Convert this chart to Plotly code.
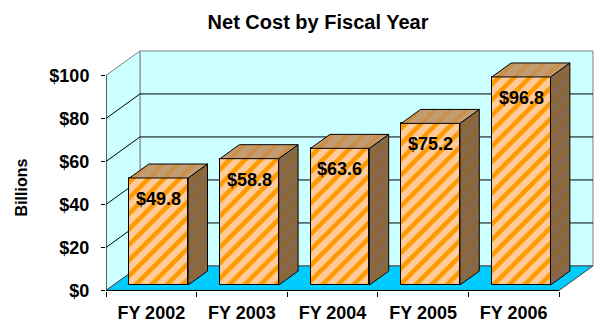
import plotly.graph_objects as go

# ---- data ----
categories = ["FY 2002", "FY 2003", "FY 2004", "FY 2005", "FY 2006"]
net_cost = [49.8, 58.8, 63.6, 75.2, 96.8]
value_labels = ["$49.8", "$58.8", "$63.6", "$75.2", "$96.8"]
y_tick_values = [0, 20, 40, 60, 80, 100]
y_tick_labels = ["$0", "$20", "$40", "$60", "$80", "$100"]

# ---- 3D projection settings (in axis units) ----
DX = 0.375      # depth offset along x (category units)
DY = 11.4       # depth offset along y (value units)
D_FRONT = 0.22  # bar front face depth fraction
D_BACK = 0.79   # bar back face depth fraction
BAR_W = 0.648
Y_MAX = 100

FONT = "Liberation Sans, Arial, sans-serif"
WALL = "#CCFFFF"
FLOOR = "#00CCFF"
BORDER = "#808080"

pos = list(range(len(categories)))
x_lo = -0.5
x_hi = len(categories) - 0.5

fig = go.Figure()
shapes = []

def poly(xs, ys):
    return "M " + " L ".join(f"{a},{b}" for a, b in zip(xs, ys)) + " Z"

# back wall
shapes.append(dict(type="path", xref="x", yref="y", layer="below",
                   path=poly([x_lo + DX, x_hi + DX, x_hi + DX, x_lo + DX],
                             [DY, DY, Y_MAX + DY, Y_MAX + DY]),
                   fillcolor=WALL, line=dict(color=BORDER, width=1)))
# left wall
shapes.append(dict(type="path", xref="x", yref="y", layer="below",
                   path=poly([x_lo, x_lo, x_lo + DX, x_lo + DX],
                             [0, Y_MAX, Y_MAX + DY, DY]),
                   fillcolor=WALL, line=dict(color=BORDER, width=1)))
# gridlines
for v in y_tick_values[1:-1]:
    shapes.append(dict(type="path", xref="x", yref="y", layer="below",
                       path=f"M {x_lo},{v} L {x_lo + DX},{v + DY} L {x_hi + DX},{v + DY}",
                       line=dict(color="#000000", width=1)))
# floor
shapes.append(dict(type="path", xref="x", yref="y", layer="below",
                   path=poly([x_lo, x_hi, x_hi + DX, x_lo + DX], [0, 0, DY, DY]),
                   fillcolor=FLOOR, line=dict(color="#404040", width=1)))
# front axis lines
shapes.append(dict(type="line", xref="x", yref="y", layer="below",
                   x0=x_lo, x1=x_lo, y0=0, y1=Y_MAX,
                   line=dict(color="#000000", width=1)))
shapes.append(dict(type="line", xref="x", yref="y", layer="below",
                   x0=x_lo, x1=x_hi, y0=0, y1=0,
                   line=dict(color="#000000", width=1)))

# front faces
base = D_FRONT * DY
fig.add_trace(go.Bar(
    x=[p + D_FRONT * DX for p in pos], y=net_cost, base=base, width=BAR_W,
    marker=dict(color="#FFCC99", line=dict(color="#000000", width=1),
                pattern=dict(shape="/", fgcolor="#FF9900", bgcolor="#FFCC99",
                             size=11, solidity=0.42, fillmode="replace")),
    hoverinfo="skip", showlegend=False))

ddx = (D_BACK - D_FRONT) * DX
ddy = (D_BACK - D_FRONT) * DY
for p, v in zip(pos, net_cost):
    xl = p + D_FRONT * DX - BAR_W / 2
    xr = p + D_FRONT * DX + BAR_W / 2
    top = base + v
    # side face
    fig.add_trace(go.Scatter(
        x=[xr, xr, xr + ddx, xr + ddx, xr], y=[base, top, top + ddy, base + ddy, base],
        mode="lines", fill="toself", fillcolor="#86694D",
        fillpattern=dict(shape="/", fgcolor="#966419", bgcolor="#86694D", size=11, solidity=0.4),
        line=dict(color="#000000", width=1), hoverinfo="skip", showlegend=False))
    # top face
    fig.add_trace(go.Scatter(
        x=[xl, xr, xr + ddx, xl + ddx, xl], y=[top, top, top + ddy, top + ddy, top],
        mode="lines", fill="toself", fillcolor="#C49C74",
        fillpattern=dict(shape="/", fgcolor="#CC8522", bgcolor="#C49C74", size=11, solidity=0.4),
        line=dict(color="#000000", width=1), hoverinfo="skip", showlegend=False))

annotations = []
for p, v, t in zip(pos, net_cost, value_labels):
    annotations.append(dict(x=p + D_FRONT * DX, y=base + v, xref="x", yref="y",
                            text=t, showarrow=False, yanchor="middle", yshift=-21,
                            font=dict(family=FONT, size=18, color="#000000", weight="bold")))
annotations.append(dict(x=-0.173, y=0.428, xref="paper", yref="paper", text="Billions",
                        textangle=-90, showarrow=False, xanchor="center", yanchor="middle",
                        font=dict(family=FONT, size=16, color="#000000", weight="bold")))

W, H = 594, 324
ML, MR, MT, MB = 106, 0, 50, 33
px_per_cat = 90.6
px_per_val = 2.15
x_range = [x_lo, x_lo + (W - ML - MR) / px_per_cat]
y0 = -0.25
y_range = [y0, y0 + (H - MT - MB) / px_per_val]

fig.update_layout(
    width=W, height=H, autosize=False,
    margin=dict(l=ML, r=MR, t=MT, b=MB),
    paper_bgcolor="#FFFFFF", plot_bgcolor="rgba(0,0,0,0)",
    shapes=shapes, annotations=annotations,
    title=dict(text="Net Cost by Fiscal Year", x=318 / W, xanchor="center",
               y=1 - 22 / H, yanchor="middle",
               font=dict(family=FONT, size=20, color="#000000", weight="bold")),
    xaxis=dict(range=x_range, tickvals=pos, ticktext=categories, ticks="",
               showgrid=False, zeroline=False, showline=False,
               tickfont=dict(family=FONT, size=18, color="#000000", weight="bold"),
               ticklabelstandoff=9,
               minor=dict(tickvals=[x_lo + i for i in range(len(categories) + 1)],
                          ticks="outside", ticklen=5, tickcolor="#000000", showgrid=False)),
    yaxis=dict(range=y_range, tickvals=y_tick_values, ticktext=y_tick_labels,
               ticks="outside", ticklen=4, tickcolor="#000000",
               showgrid=False, zeroline=False, showline=False,
               ticklabelstandoff=8,
               tickfont=dict(family=FONT, size=18, color="#000000", weight="bold")),
    bargap=0,
)

fig.write_html("out.html")
